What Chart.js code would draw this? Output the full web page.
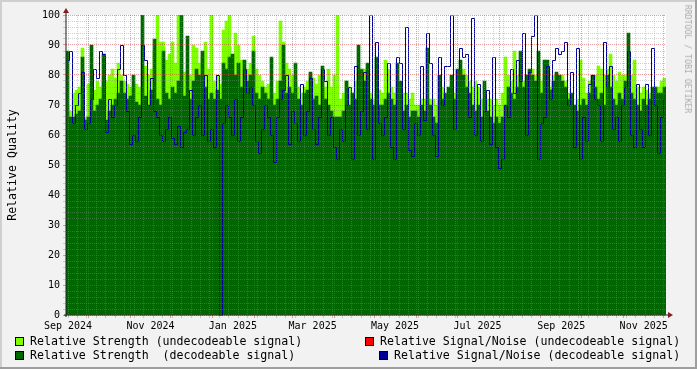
<!DOCTYPE html>
<html>
<head>
<meta charset="utf-8">
<script src="https://cdn.jsdelivr.net/npm/chart.js@4.4.1/dist/chart.umd.min.js"></script>
<style>
  html, body { margin: 0; padding: 0; background: #f2f2f2; }
  #wrap { position: relative; width: 697px; height: 369px; overflow: hidden;
          font-family: 'DejaVu Sans Mono', monospace; color: #000; }
  #wrap canvas { position: absolute; left: 0; top: 0; }
  .ytitle { position: absolute; left: 12px; top: 165px; font-size: 11.6px; white-space: pre;
            transform: translate(-50%, -50%) rotate(-90deg); }
  .wm { position: absolute; left: 688px; top: 59px; font-size: 8.2px; color: #ababab; white-space: pre;
        transform: translate(-50%, -50%) rotate(90deg); }
  .leg { position: absolute; font-size: 11.6px; line-height: 14px; white-space: pre; }
  .box { position: absolute; width: 7px; height: 7px; border: 1px solid #000; }
</style>
</head>
<body>
<div id="wrap">
  <canvas id="chart" width="697" height="369"></canvas>
  <div class="ytitle">Relative Quality</div>
  <div class="wm">RRDTOOL / TOBI OETIKER</div>
  <div id="legend"></div>
</div>
<script>
// graph window, in days after 2024-09-01, one sample per ~2.2 days
const graphStart = 13.5;
const sampleDays = 2.22;

// Relative Strength (undecodeable signal)
const strengthUndecodeable = [
  70, 68, 74, 75, 76, 89, 66, 77, 74, 75, 78, 76, 78, 78, 80, 82, 79, 84, 80, 78,
  77, 76, 76, 77, 76, 74, 83, 80, 82, 88, 100, 91, 91, 85, 87, 91, 84, 100, 88, 81,
  78, 80, 90, 89, 84, 86, 91, 82, 100, 78, 80, 77, 95, 98, 100, 82, 94, 90, 85, 80,
  82, 84, 93, 82, 80, 78, 76, 77, 74, 74, 78, 98, 91, 84, 82, 80, 78, 76, 74, 76,
  78, 80, 79, 77, 80, 78, 76, 82, 76, 80, 100, 72, 74, 78, 76, 74, 78, 81, 80, 82,
  80, 74, 72, 74, 75, 74, 85, 82, 76, 74, 76, 74, 74, 74, 72, 74, 70, 70, 72, 72,
  72, 72, 72, 70, 72, 76, 72, 72, 74, 74, 76, 80, 82, 80, 78, 76, 78, 76, 72, 72,
  72, 72, 70, 72, 70, 74, 86, 80, 78, 88, 80, 82, 78, 78, 80, 82, 80, 82, 78, 80,
  78, 76, 80, 80, 78, 80, 78, 74, 72, 70, 72, 85, 79, 74, 78, 78, 80, 83, 82, 80,
  82, 87, 80, 78, 81, 80, 80, 78, 80, 85, 76, 74, 76, 75, 74, 74, 76, 76, 78, 79
];

// Relative Strength (decodeable signal)
const strengthDecodeable = [
  88, 66, 66, 67, 68, 86, 65, 66, 90, 68, 70, 72, 87, 65, 68, 70, 72, 74, 78, 74,
  72, 73, 80, 71, 70, 100, 73, 70, 75, 92, 72, 70, 88, 74, 72, 76, 74, 78, 100, 73,
  93, 72, 78, 82, 80, 88, 76, 72, 74, 72, 75, 72, 84, 82, 86, 87, 80, 84, 76, 85,
  78, 80, 88, 74, 72, 76, 74, 72, 86, 70, 72, 78, 90, 74, 76, 74, 84, 72, 70, 74,
  75, 81, 72, 73, 70, 83, 72, 70, 68, 66, 66, 66, 68, 78, 70, 74, 72, 90, 82, 78,
  84, 72, 70, 86, 70, 70, 72, 74, 72, 70, 84, 78, 68, 70, 66, 68, 68, 66, 70, 68,
  89, 70, 66, 64, 80, 72, 74, 76, 80, 72, 82, 85, 80, 76, 74, 70, 68, 70, 66, 78,
  68, 66, 64, 66, 64, 66, 70, 76, 74, 72, 76, 88, 76, 80, 82, 80, 78, 88, 74, 85,
  85, 75, 78, 81, 80, 78, 76, 72, 74, 70, 68, 70, 72, 70, 74, 80, 76, 72, 74, 70,
  80, 76, 72, 70, 74, 72, 78, 94, 74, 72, 70, 68, 72, 70, 72, 76, 76, 74, 74, 76
];

// Relative Signal/Noise (decodeable signal)
const snrDecodeable = [
  85, 88, 64, 70, 74, 81, 62, 64, 72, 82, 79, 88, 87, 61, 72, 66, 70, 82, 90, 80,
  68, 57, 60, 58, 66, 90, 85, 70, 79, 68, 66, 60, 58, 62, 66, 59, 57, 63, 56, 61,
  62, 75, 60, 66, 70, 60, 80, 58, 62, 56, 80, 0, 64, 70, 66, 60, 72, 58, 66, 82,
  74, 76, 70, 58, 54, 62, 70, 66, 60, 51, 66, 72, 75, 80, 57, 68, 64, 58, 77, 60,
  68, 79, 62, 57, 66, 82, 78, 60, 66, 56, 52, 62, 58, 70, 76, 52, 83, 60, 68, 81,
  62, 100, 52, 91, 64, 60, 66, 84, 56, 52, 86, 84, 62, 96, 55, 53, 64, 60, 83, 65,
  94, 84, 60, 53, 86, 70, 83, 83, 100, 62, 82, 89, 86, 87, 66, 99, 60, 77, 58, 68,
  75, 57, 86, 56, 49, 52, 70, 66, 82, 74, 85, 78, 94, 60, 81, 93, 100, 52, 64, 66,
  83, 72, 85, 89, 87, 88, 91, 70, 81, 56, 89, 52, 66, 58, 77, 80, 72, 70, 58, 91,
  76, 83, 62, 66, 58, 70, 76, 88, 60, 56, 77, 62, 56, 77, 60, 89, 70, 54, 66, 72
];

// x axis labels (year, month index) and y labels
const xLabelMonths = [[2024, 8], [2024, 10], [2025, 0], [2025, 2], [2025, 4], [2025, 6], [2025, 8], [2025, 10]];
const monthNames = ['Jan', 'Feb', 'Mar', 'Apr', 'May', 'Jun', 'Jul', 'Aug', 'Sep', 'Oct', 'Nov', 'Dec'];
const yMax = 100;
const yLabelStep = 10;
const yGridStep = 2;

const legendItems = [
  { label: 'Relative Strength (undecodeable signal)', color: '#80ff00' },
  { label: 'Relative Signal/Noise (undecodeable signal)', color: '#ff0000' },
  { label: 'Relative Strength  (decodeable signal)', color: '#006600' },
  { label: 'Relative Signal/Noise (decodeable signal)', color: '#000099' }
];

const GRID = 'rgba(140,140,140,0.4)';
const MGRID = 'rgba(210,60,60,0.5)';
const FONT = 'DejaVu Sans Mono';
const plotWidth = 600;

const graphEnd = graphStart + strengthDecodeable.length * sampleDays;
const origin = Date.UTC(2024, 8, 1);
const dayOf = (y, m, d) => (Date.UTC(y, m, d) - origin) / 864e5;
const xAt = i => graphStart + (i + 0.5) * sampleDays;

//build x ticks: weekly minor grid, monthly major grid, labels mid month
const xTickInfo = new Map();
for (let d = dayOf(2024, 8, 2); d <= graphEnd; d += 7) {
    if (d >= graphStart) xTickInfo.set(d, { grid: 'minor', label: '' });
}
for (let y = 2024, m = 8; dayOf(y, m, 1) <= graphEnd; m++) {
    if (m > 11) { m = 0; y++; }
    const d = dayOf(y, m, 1);
    if (d >= graphStart && d <= graphEnd) xTickInfo.set(d, { grid: 'major', label: '' });
}
xLabelMonths.forEach(([y, m]) => {
    const d = dayOf(y, m, 16);
    const t = xTickInfo.get(d) || { grid: null, label: '' };
    t.label = monthNames[m] + ' ' + y;
    xTickInfo.set(d, t);
});
const xTickValues = [...xTickInfo.keys()].sort((a, b) => a - b);

//frame, white canvas, axis lines and arrows like rrdtool
const rrdFrame = {
    id: 'rrdFrame',
    beforeDraw(chart) {
        const { ctx, chartArea: a, width, height } = chart;
        ctx.save();
        ctx.fillStyle = '#f2f2f2';
        ctx.fillRect(0, 0, width, height);
        ctx.fillStyle = '#cfcfcf';
        ctx.fillRect(0, 0, width, 2);
        ctx.fillRect(0, 0, 2, height);
        ctx.fillStyle = '#9e9e9e';
        ctx.fillRect(0, height - 2, width, 2);
        ctx.fillRect(width - 2, 0, 2, height);
        ctx.fillStyle = '#ffffff';
        ctx.fillRect(a.left, a.top, a.right - a.left, a.bottom - a.top);
        ctx.restore();
    },
    //keep the 1px signal/noise line on whole pixels
    beforeDatasetDraw(chart, args) {
        if (args.meta.type !== 'line') return;
        chart.ctx.save();
        chart.ctx.translate(0.5, 0.5);
    },
    afterDatasetDraw(chart, args) {
        if (args.meta.type !== 'line') return;
        chart.ctx.restore();
    },
    afterDraw(chart) {
        const { ctx, chartArea: a } = chart;
        ctx.save();
        ctx.strokeStyle = '#1f1f1f';
        ctx.lineWidth = 1;
        ctx.beginPath();
        ctx.moveTo(a.left, a.bottom + 2);
        ctx.lineTo(a.left, a.top - 4);
        ctx.moveTo(a.left - 2, a.bottom);
        ctx.lineTo(a.right + 4, a.bottom);
        ctx.stroke();
        ctx.fillStyle = '#801f1f';
        ctx.beginPath();
        ctx.moveTo(a.left - 3, a.top - 2);
        ctx.lineTo(a.left + 3, a.top - 2);
        ctx.lineTo(a.left, a.top - 7);
        ctx.closePath();
        ctx.fill();
        ctx.beginPath();
        ctx.moveTo(a.right + 2, a.bottom - 3);
        ctx.lineTo(a.right + 2, a.bottom + 3);
        ctx.lineTo(a.right + 7, a.bottom);
        ctx.closePath();
        ctx.fill();
        ctx.restore();
    }
};

//one bar per sample, touching its neighbours
const barStyle = {
    borderWidth: 0,
    grouped: false,
    barThickness: plotWidth / strengthDecodeable.length,
    barPercentage: 1,
    categoryPercentage: 1
};

const chart = new Chart(document.getElementById('chart'), {
    type: 'bar',
    data: {
        datasets: [
            {
                type: 'line',
                label: legendItems[3].label,
                data: snrDecodeable.map((v, i) => ({ x: xAt(i), y: v })),
                borderColor: legendItems[3].color,
                borderWidth: 1,
                stepped: 'middle',
                pointRadius: 0,
                fill: false,
                order: 0
            }, {
                ...barStyle,
                label: legendItems[2].label,
                data: strengthDecodeable.map((v, i) => ({ x: xAt(i), y: v })),
                backgroundColor: legendItems[2].color,
                order: 1
            }, {
                ...barStyle,
                label: legendItems[0].label,
                data: strengthUndecodeable.map((v, i) => ({ x: xAt(i), y: v })),
                backgroundColor: legendItems[0].color,
                order: 2
            }
        ]
    },
    options: {
        responsive: false,
        devicePixelRatio: 1,
        animation: false,
        layout: { padding: { left: 0, top: 15, right: 697 - 66 - plotWidth, bottom: 34 } },
        plugins: {
            legend: { display: false },
            tooltip: { enabled: false }
        },
        scales: {
            x: {
                type: 'linear',
                min: graphStart,
                max: graphEnd,
                offset: false,
                afterFit: s => { s.height = 20; },
                afterBuildTicks: s => { s.ticks = xTickValues.map(v => ({ value: v })); },
                ticks: {
                    autoSkip: false,
                    maxRotation: 0,
                    padding: 2,
                    color: '#000',
                    font: { family: FONT, size: 10 },
                    callback: v => (xTickInfo.get(v) || {}).label || ''
                },
                grid: {
                    offset: false,
                    z: 1,
                    tickLength: 3,
                    color: ctx => {
                        const t = ctx.tick && xTickInfo.get(ctx.tick.value);
                        if (!t || !t.grid) return 'rgba(0,0,0,0)';
                        return t.grid === 'major' ? MGRID : GRID;
                    }
                },
                border: { display: false, dash: [1, 1] }
            },
            y: {
                min: 0,
                max: yMax,
                afterFit: s => { s.width = 66; },
                ticks: {
                    stepSize: yGridStep,
                    autoSkip: false,
                    padding: 3,
                    color: '#000',
                    font: { family: FONT, size: 10 },
                    callback: v => (v % yLabelStep === 0 ? String(v) : '')
                },
                grid: {
                    z: 1,
                    tickLength: 3,
                    color: ctx => (ctx.tick && ctx.tick.value % yLabelStep === 0 ? MGRID : GRID)
                },
                border: { display: false, dash: [1, 1] }
            }
        }
    },
    plugins: [rrdFrame]
});

//legend in two rows, left entries and right entries
const legendPos = [
    { box: [15, 337], text: [30, 334] },
    { box: [365, 337], text: [380, 334] },
    { box: [15, 351], text: [30, 348] },
    { box: [379, 351], text: [394, 348] }
];
const legendEl = document.getElementById('legend');
legendItems.forEach((item, i) => {
    const p = legendPos[i];
    const box = document.createElement('div');
    box.className = 'box';
    box.style.left = p.box[0] + 'px';
    box.style.top = p.box[1] + 'px';
    box.style.background = item.color;
    const txt = document.createElement('div');
    txt.className = 'leg';
    txt.style.left = p.text[0] + 'px';
    txt.style.top = p.text[1] + 'px';
    txt.textContent = item.label;
    legendEl.appendChild(box);
    legendEl.appendChild(txt);
});
</script>
</body>
</html>
